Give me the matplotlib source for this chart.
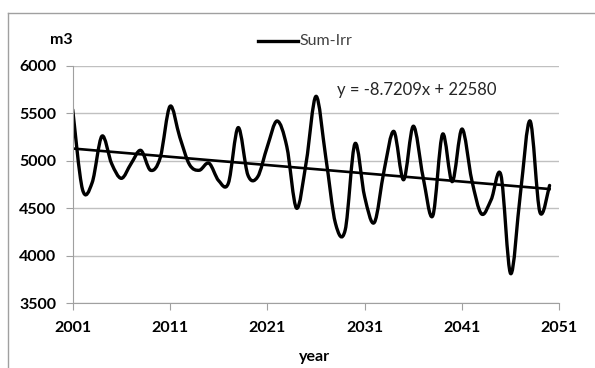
import matplotlib.pyplot as plt
import numpy as np
from matplotlib.path import Path
from matplotlib.patches import PathPatch
from matplotlib.lines import Line2D

plt.rcParams['font.family'] = ['Lato', 'DejaVu Sans']

############################ Datos ############################
years = np.arange(2001, 2051)
sum_irr = [5540, 4700, 4770, 5260, 4970, 4815, 4970, 5110, 4900, 5035,
           5575, 5250, 4960, 4900, 4975, 4790, 4765, 5350, 4850, 4830,
           5150, 5420, 5150, 4500, 4990, 5680, 5040, 4340, 4270, 5180,
           4620, 4350, 4900, 5310, 4800, 5365, 4830, 4420, 5280, 4780,
           5335, 4800, 4440, 4590, 4850, 3810, 4650, 5420, 4460, 4740]

slope = -8.7209
intercept = 22580

x_ticks = [2001, 2011, 2021, 2031, 2041, 2051]
y_ticks = [3500, 4000, 4500, 5000, 5500, 6000]

############################ Curva suavizada (bezier) ############################
def smooth_path(x, y):
     x = np.asarray(x, float)
     y = np.asarray(y, float)
     px = np.concatenate(([x[0]], x, [x[-1]]))
     py = np.concatenate(([y[0]], y, [y[-1]]))
     verts = [(x[0], y[0])]
     codes = [Path.MOVETO]
     for i in range(len(x) - 1):
          k = i + 1
          c1 = (px[k] + (px[k+1] - px[k-1]) / 6, py[k] + (py[k+1] - py[k-1]) / 6)
          c2 = (px[k+1] - (px[k+2] - px[k]) / 6, py[k+1] - (py[k+2] - py[k]) / 6)
          verts += [c1, c2, (px[k+1], py[k+1])]
          codes += [Path.CURVE4] * 3
     return Path(verts, codes)

############################ Figura ############################
fig = plt.figure(figsize=(5.95, 3.68), dpi=100)
ax = fig.add_axes([0.1222, 0.1766, 0.8178, 0.6441])

ax.add_patch(PathPatch(smooth_path(years, sum_irr), fill=False,
                       edgecolor='black', lw=2.4, capstyle='round', joinstyle='round'))

trend_x = np.array([years[0], years[-1]])
ax.plot(trend_x, slope * trend_x + intercept, color='black', lw=1.9)

ax.set_xlim(2001, 2051)
ax.set_ylim(3500, 6000)
ax.set_xticks(x_ticks)
ax.set_yticks(y_ticks)
ax.grid(axis='y', color='#c0c0c0', lw=1)
ax.set_axisbelow(True)
for s in ['top', 'right']:
     ax.spines[s].set_visible(False)
for s in ['left', 'bottom']:
     ax.spines[s].set_color('#a0a0a0')
ax.tick_params(axis='both', colors='#a0a0a0', labelcolor='black', length=5)
ax.tick_params(axis='y', pad=7)
ax.tick_params(axis='x', pad=8)
for lab in ax.get_xticklabels() + ax.get_yticklabels():
     lab.set_fontweight('bold')
     lab.set_fontsize(11.5)

fig.text(0.1025, 0.890, 'm3', ha='center', va='center', fontsize=11.5, fontweight='bold')
fig.text(0.529, 0.031, 'year', ha='center', va='center', fontsize=11.5, fontweight='bold')
fig.text(337 / 595, 1 - 90.5 / 368, 'y = -8.7209x + 22580', ha='left', va='center',
         fontsize=12, color='#262626')

# leyenda
fig.add_artist(Line2D([258 / 595, 298 / 595], [1 - 40.7 / 368] * 2, color='black', lw=2.4))
fig.text(299 / 595, 1 - 40.7 / 368, 'Sum-Irr', ha='left', va='center', fontsize=11.5, color='#404040')

# marco exterior
fig.add_artist(Line2D([7.5 / 595, 1], [1 - 12.5 / 368] * 2, color='#a0a0a0', lw=1))
fig.add_artist(Line2D([7.5 / 595] * 2, [0, 1 - 12.5 / 368], color='#a0a0a0', lw=1))

fig.savefig('out.png', dpi=100)
